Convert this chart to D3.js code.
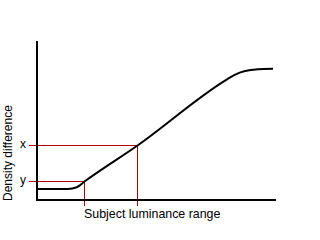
<!DOCTYPE html>
<html>
<head>
<meta charset="utf-8">
<script src="https://cdn.jsdelivr.net/npm/d3@7"></script>
<style>
body{margin:0;background:#fff}
text{font-family:"Liberation Sans",Arial,sans-serif;font-size:12px;fill:#000}
</style>
</head>
<body>
<div id="w"></div>
<script>
// characteristic curve (arbitrary units 0..100)
var exposure = [0, 13.3, 17, 20.2, 42.3, 79.6, 83, 87.1, 92.5, 98.75]
var density  = [6.9, 6.9, 8.0, 11.56, 34.06, 75.4, 78.4, 80.6, 81.75, 82.06]
var markerX = [20.2, 42.3]
var markerY = [11.56, 34.06]
var markerLabels = ["y", "x"]
var xTitle = "Subject luminance range"
var yTitle = "Density difference"

var w = 320, h = 240
var svg = d3.select("#w").append("svg")
            .attr("width", w)
            .attr("height", h)

var x = d3.scaleLinear().domain([0, 100]).range([36, 276])
var y = d3.scaleLinear().domain([0, 100]).range([200, 40])

var red = "#b00000"

// guide lines
markerX.forEach(function(d, i) {
  svg.append("line")
    .attr("x1", 29).attr("x2", x(d))
    .attr("y1", y(markerY[i])).attr("y2", y(markerY[i]))
    .attr("stroke", red).attr("stroke-width", 1)
    .attr("shape-rendering", "crispEdges")
  svg.append("line")
    .attr("x1", x(d)).attr("x2", x(d))
    .attr("y1", y(markerY[i])).attr("y2", 206)
    .attr("stroke", red).attr("stroke-width", 1)
    .attr("shape-rendering", "crispEdges")
  svg.append("text")
    .attr("x", 23).attr("y", y(markerY[i]) + 2.5)
    .attr("text-anchor", "middle")
    .text(markerLabels[i])
})

// axes
svg.append("line").attr("x1", 37).attr("x2", 37).attr("y1", 41).attr("y2", 201)
  .attr("stroke", "#000").attr("stroke-width", 2)
svg.append("line").attr("x1", 36).attr("x2", 276).attr("y1", 200).attr("y2", 200)
  .attr("stroke", "#000").attr("stroke-width", 2)

var line = d3.line()
  .x(function(d, i) { return x(exposure[i]) })
  .y(function(d, i) { return y(density[i]) })
  .curve(d3.curveMonotoneX)

svg.append("path")
  .attr("d", line(exposure))
  .attr("fill", "none")
  .attr("stroke", "#000")
  .attr("stroke-width", 2)

svg.append("text")
  .attr("x", 84).attr("y", 218)
  .style("font-size", "12.4px")
  .text(xTitle)

svg.append("text")
  .attr("transform", "translate(12,201) rotate(-90)")
  .text(yTitle)
</script>
</body>
</html>
